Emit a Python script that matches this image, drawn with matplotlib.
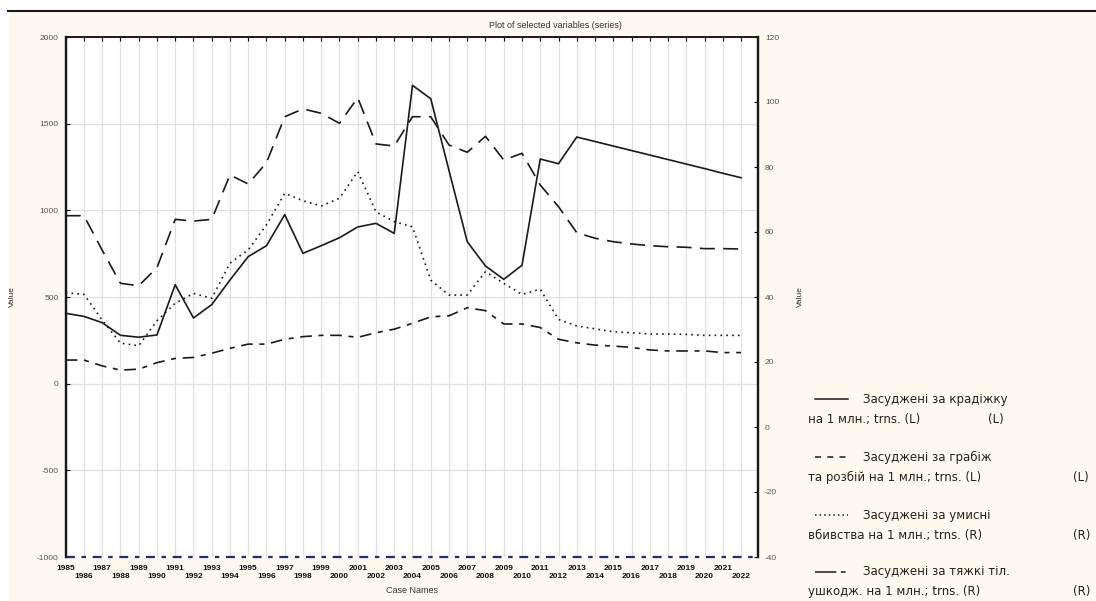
import matplotlib
matplotlib.use("Agg")
import matplotlib.pyplot as plt
from matplotlib.lines import Line2D
from matplotlib.patches import Rectangle

years = list(range(1985, 2023))

# left axis series
theft = [406, 388, 352, 279, 268, 281, 571, 379, 456, 598, 733, 796, 975, 752, 796, 842, 904, 925, 867,
         1721, 1644, 1230, 819, 679, 602, 683, 1296, 1269, 1423, 1397, 1371, 1345, 1319, 1293, 1267, 1241, 1214, 1188]
robbery = [969, 969, 770, 579, 565, 669, 948, 938, 948, 1204, 1152, 1275, 1540, 1585, 1560, 1502, 1650, 1383, 1371,
           1540, 1540, 1377, 1335, 1427, 1290, 1329, 1146, 1021, 871, 839, 819, 806, 796, 790, 787, 779, 779, 777]
# right axis series
murder = [41.3, 40.8, 32.9, 25.8, 25.0, 32.7, 38.1, 41.1, 39.6, 50.4, 54.5, 62.2, 71.9, 69.6, 68.0, 70.4, 78.6, 66.2, 63.2,
          61.6, 45.2, 40.6, 40.6, 47.8, 44.2, 40.8, 42.4, 33.1, 31.1, 30.2, 29.3, 29.0, 28.6, 28.6, 28.5, 28.2, 28.2, 28.2]
injury = [20.6, 20.6, 18.8, 17.5, 17.8, 19.8, 21.1, 21.4, 22.7, 24.2, 25.5, 25.5, 27.0, 27.8, 28.2, 28.2, 27.6, 29.0, 30.1,
          31.9, 33.9, 34.2, 36.7, 35.8, 31.7, 31.7, 30.6, 27.0, 25.9, 25.2, 24.9, 24.5, 23.7, 23.4, 23.4, 23.4, 22.9, 22.9]

left_ticks = [-1000, -500, 0, 500, 1000, 1500, 2000]
right_ticks = [-40, -20, 0, 20, 40, 60, 80, 100, 120]

legend_first = ["Засуджені за крадіжку", "Засуджені за грабіж", "Засуджені за умисні", "Засуджені за тяжкі тіл."]
legend_second = ["на 1 млн.; trns. (L)", "та розбій на 1 млн.; trns. (L)",
                 "вбивства на 1 млн.; trns. (R)", "ушкодж. на 1 млн.; trns. (R)"]
legend_side = ["(L)", "(L)", "(R)", "(R)"]

W, H = 1096, 601
cream = '#fdf9ee'
ink = '#1a1a1a'
plt.rcParams['font.family'] = ['Liberation Sans', 'DejaVu Sans']
plt.rcParams['axes.unicode_minus'] = False

fig = plt.figure(figsize=(W / 100, H / 100), dpi=100)
fig.patch.set_facecolor('white')
fig.add_artist(Rectangle((9 / W, 0), 1, 1 - 11 / H, transform=fig.transFigure,
                         facecolor=cream, edgecolor='none', zorder=-10))
fig.add_artist(Line2D([8 / W, 1], [1 - 10.5 / H] * 2, transform=fig.transFigure, color=ink, lw=1.5))

ax = fig.add_axes([65.7 / W, 1 - 557 / H, (758 - 65.7) / W, (557 - 37) / H])
ax.set_facecolor('white')
ax2 = ax.twinx()

ax.plot(years, theft, color=ink, lw=1.2)
ax.plot(years, robbery, color=ink, lw=1.2, dashes=(9, 5))
ax2.plot(years, murder, color=ink, lw=1.2, dashes=(1, 2.5))
ax2.plot(years, injury, color=ink, lw=1.2, dashes=(7, 4, 3, 4))

ax.set_xlim(1985, 2022.93)
ax.set_ylim(-1000, 2000)
ax2.set_ylim(-40, 120)

ax.set_xticks(years)
ax.set_xticklabels([str(y) if i % 2 == 0 else '\n' + str(y) for i, y in enumerate(years)],
                   fontsize=6, fontweight='bold', color='#111111', linespacing=1.2)
ax.tick_params(axis='x', bottom=False, top=True, direction='in', length=3, width=0.8, pad=6)
ax.set_yticks(left_ticks)
ax.tick_params(axis='y', direction='in', length=3, width=0.8, labelsize=6, labelcolor='#555555', pad=5)
ax2.set_yticks(right_ticks)
ax2.tick_params(axis='y', direction='in', length=3, width=0.8, labelsize=6, labelcolor='#555555', pad=5)

ax.grid(True, color='#e0e0e0', lw=0.9)
ax.set_axisbelow(True)

for a in (ax, ax2):
    a.spines['bottom'].set_visible(False)
    a.spines['left'].set_linewidth(1.6)
    a.spines['right'].set_linewidth(1.6)
    a.spines['top'].set_linewidth(1.2)
    for s in a.spines.values():
        s.set_color(ink)
ax.axhline(-1000, color='#1f2a7a', lw=1.6, dashes=(4, 3, 2, 3), clip_on=False, zorder=5)

ax.set_xlabel('Case Names', fontsize=6.5, color='#333333', labelpad=4)
ax.set_ylabel('Value', fontsize=6, color='#333333')
ax.yaxis.set_label_coords((16 - 65.7) / (758 - 65.7), 0.5)
ax2.set_ylabel('Value', fontsize=6, color='#333333', rotation=90)
ax2.yaxis.set_label_coords((797 - 65.7) / (758 - 65.7), 0.5)
fig.text(555 / W, 1 - 25 / H, 'Plot of selected variables (series)', fontsize=6.5, color='#333333',
         ha='center', va='center')

# legend drawn by hand to the right of the plot
styles = [dict(), dict(dashes=(4, 4)), dict(dashes=(1, 2)), dict(dashes=(14, 3, 3, 3))]
rows = [399, 457, 515, 572]
side_x = [988, 1073, 1073, 1073]
for i, y in enumerate(rows):
    fig.add_artist(Line2D([815 / W, 848 / W], [1 - y / H] * 2, transform=fig.transFigure,
                          color=ink, lw=1.1, **styles[i]))
    fig.text(863 / W, 1 - y / H, legend_first[i], fontsize=8.5, family=['DejaVu Sans'],
             color='#222222', va='center')
    fig.text(808 / W, 1 - (y + 20) / H, legend_second[i], fontsize=8.5, family=['DejaVu Sans'],
             color='#222222', va='center')
    fig.text(side_x[i] / W, 1 - (y + 20) / H, legend_side[i], fontsize=8.5, family=['DejaVu Sans'],
             color='#222222', va='center')

plt.savefig('out.png', dpi=100)
